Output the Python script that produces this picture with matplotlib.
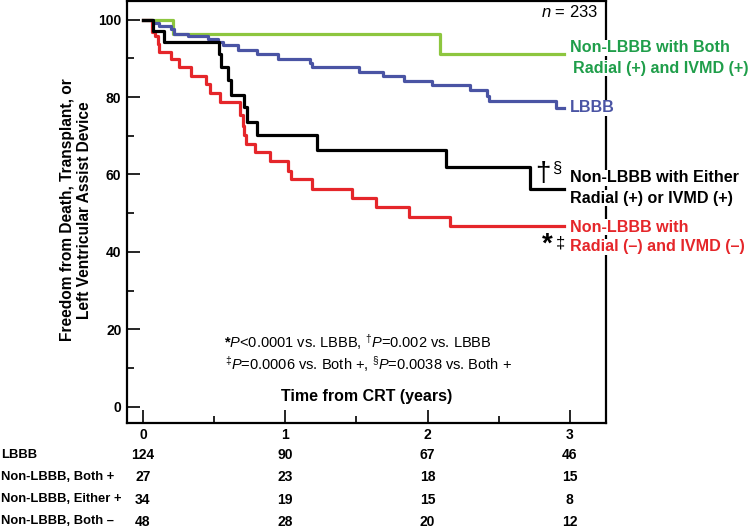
import matplotlib
matplotlib.use("Agg")
import matplotlib.pyplot as plt
from matplotlib import font_manager
from matplotlib.ticker import MultipleLocator

# ---- data ----
lbbb_t = [0, 0.07, 0.11, 0.20, 0.22, 0.32, 0.46, 0.53, 0.56, 0.67, 0.80, 0.95,
          1.175, 1.19, 1.52, 1.69, 1.835, 2.03, 2.30, 2.42, 2.43, 2.90, 2.96]
lbbb_s = [100, 99.2, 98.4, 97.6, 96.4, 95.7, 95.0, 94.2, 93.4, 92.2, 91.0, 89.9,
          88.9, 87.8, 86.5, 85.4, 84.2, 83.1, 81.8, 80.3, 79.0, 77.2, 77.2]

both_pos_t = [0, 0.21, 2.09, 2.96]
both_pos_s = [100, 96.3, 91.1, 91.1]

either_t = [0, 0.07, 0.15, 0.535, 0.55, 0.60, 0.62, 0.71, 0.73, 0.80, 1.22, 2.13, 2.72, 2.96]
either_s = [100, 97.1, 94.1, 91.2, 87.8, 84.4, 80.5, 77.3, 73.5, 70.2, 66.2, 61.9, 56.3, 56.3]

both_neg_t = [0, 0.065, 0.085, 0.105, 0.115, 0.20, 0.25, 0.34, 0.44, 0.47, 0.54, 0.68,
              0.70, 0.71, 0.725, 0.79, 0.89, 1.02, 1.04, 1.19, 1.47, 1.64, 1.87, 2.16, 2.96]
both_neg_s = [100, 96.8, 95.7, 93.7, 91.7, 89.9, 87.8, 85.4, 83.4, 81.1, 78.8, 75.4,
              72.5, 70.2, 68.0, 65.9, 63.4, 61.0, 58.9, 56.3, 53.9, 51.6, 49.1, 46.7, 46.7]

risk_years = [0, 1, 2, 3]
risk_rows = ["LBBB", "Non-LBBB, Both +", "Non-LBBB, Either +", "Non-LBBB, Both \u2013"]
risk_lbbb = [124, 90, 67, 46]
risk_both_pos = [27, 23, 18, 15]
risk_either = [34, 19, 15, 8]
risk_both_neg = [48, 28, 20, 12]

GREEN_LINE = "#8dc63f"
GREEN_TEXT = "#1f9e4a"
BLUE = "#4a54a4"
RED = "#e5262a"

names = {f.name for f in font_manager.fontManager.ttflist}
SANS = "Liberation Sans" if "Liberation Sans" in names else "DejaVu Sans"
if "Liberation Sans Narrow" in names:
    NARROW, NSIZE, RSIZE = "Liberation Sans Narrow", 11.5, 11
else:
    NARROW, NSIZE, RSIZE = SANS, 10, 9.4

plt.rcParams["font.family"] = [SANS, "DejaVu Sans"]
plt.rcParams["mathtext.fontset"] = "custom"
plt.rcParams["mathtext.rm"] = SANS
plt.rcParams["mathtext.it"] = SANS + ":italic"
plt.rcParams["mathtext.bf"] = SANS + ":bold"

W, H = 750, 529
fig = plt.figure(figsize=(W / 100, H / 100), dpi=100)
ax = fig.add_axes([127 / W, 1 - 422.7 / H, (606 - 127) / W, (422.7 - 1) / H])


def px(x, y):
    return x / W, 1 - y / H


lw = 2.3
ax.step(both_pos_t, both_pos_s, where="post", color=GREEN_LINE, lw=lw, zorder=3)
ax.step(lbbb_t, lbbb_s, where="post", color=BLUE, lw=lw, zorder=3)
ax.step(either_t, either_s, where="post", color="black", lw=lw, zorder=4)
ax.step(both_neg_t, both_neg_s, where="post", color=RED, lw=lw, zorder=3)

ax.set_xlim(-0.112, 3.254)
ax.set_ylim(-4.1, 104.8)
ax.xaxis.set_major_locator(MultipleLocator(1))
ax.xaxis.set_minor_locator(MultipleLocator(0.5))
ax.yaxis.set_major_locator(MultipleLocator(20))
ax.yaxis.set_minor_locator(MultipleLocator(10))
ax.tick_params(which="both", direction="in", width=1.2, color="black")
ax.tick_params(which="major", length=9.5)
ax.tick_params(which="minor", length=5)
ax.tick_params(axis="x", which="major", pad=4)
ax.tick_params(axis="y", which="major", pad=4)
for lab in ax.get_xticklabels() + ax.get_yticklabels():
    lab.set_fontfamily([NARROW, "DejaVu Sans"])
    lab.set_fontweight("bold")
    lab.set_fontsize(NSIZE)
for sp in ax.spines.values():
    sp.set_linewidth(1.6)

# axis titles
fig.text(*px(76, 210), "Freedom from Death, Transplant, or\nLeft Ventricular Assist Device",
         rotation=90, ha="center", va="center", ma="center", fontsize=11.2, fontweight="bold",
         linespacing=1.1)
fig.text(*px(367, 397), "Time from CRT (years)", ha="center", va="center",
         fontsize=11.5, fontweight="bold")
fig.text(*px(598, 12), r"$\mathit{n}$ = 233", ha="right", va="center", fontsize=12)

# curve labels
box = dict(facecolor="white", edgecolor="none", pad=0.5)
lab_kw = dict(ha="left", va="center", fontsize=11.6, fontweight="bold", bbox=box, zorder=6)
fig.text(*px(570, 48), "Non-LBBB with Both", color=GREEN_TEXT, **lab_kw)
fig.text(*px(573, 68), "Radial (+) and IVMD (+)", color=GREEN_TEXT, **lab_kw)
fig.text(*px(570, 108), "LBBB", color=BLUE, **lab_kw)
fig.text(*px(570, 178), "Non-LBBB with Either", color="black", **lab_kw)
fig.text(*px(570, 198), "Radial (+) or IVMD (+)", color="black", **lab_kw)
fig.text(*px(570, 227), "Non-LBBB with", color=RED, **lab_kw)
fig.text(*px(570, 247), "Radial (\u2013) and IVMD (\u2013)", color=RED, **lab_kw)

fig.text(*px(543, 174), "\u2020", ha="center", va="center", fontsize=20)
fig.text(*px(557, 168), "\u00a7", ha="center", va="center", fontsize=12)
fig.text(*px(547, 245), "*", ha="center", va="center", fontsize=20, fontweight="bold")
fig.text(*px(560, 243), "\u2021", ha="center", va="center", fontsize=12)

# p-values
fig.text(*px(224, 342),
         r"$\mathbf{*}$$\mathit{P}$<0.0001 vs. LBBB, $^{\dagger}$$\mathit{P}$=0.002 vs. LBBB",
         ha="left", va="center", fontsize=10.5)
fig.text(*px(225, 364),
         r"$^{\ddagger}$$\mathit{P}$=0.0006 vs. Both +, $^{\S}$$\mathit{P}$=0.0038 vs. Both +",
         ha="left", va="center", fontsize=10.5)

# numbers at risk
row_y = [455, 477, 499.5, 521.5]
counts = [risk_lbbb, risk_both_pos, risk_either, risk_both_neg]
for name, yy, vals in zip(risk_rows, row_y, counts):
    fig.text(*px(1, yy), name, ha="left", va="center", fontfamily=[NARROW, "DejaVu Sans"],
             fontsize=RSIZE, fontweight="bold")
    for yr, v in zip(risk_years, vals):
        xf = fig.transFigure.inverted().transform(ax.transData.transform((yr, 0)))[0]
        fig.text(xf, 1 - yy / H, str(v), ha="center", va="center",
                 fontfamily=[NARROW, "DejaVu Sans"], fontsize=NSIZE, fontweight="bold")

fig.savefig("out.png", dpi=100)
